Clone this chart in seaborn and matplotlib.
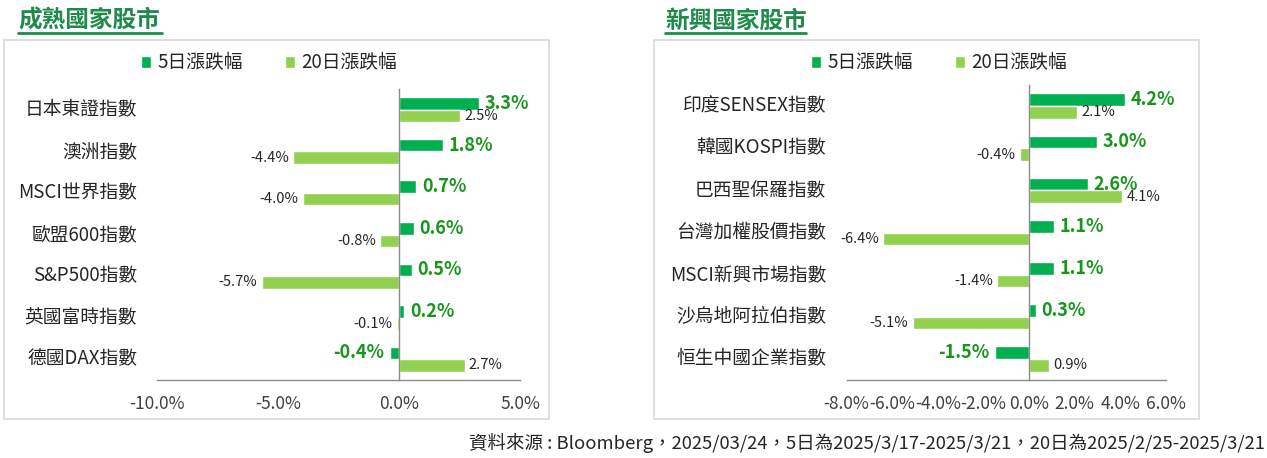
import matplotlib
matplotlib.use("Agg")
import matplotlib.pyplot as plt
import matplotlib.transforms as mtransforms
from matplotlib.patches import Rectangle
from matplotlib.lines import Line2D
from matplotlib.ticker import FuncFormatter, FixedLocator
import seaborn as sns
import pandas as pd

# --- data -------------------------------------------------------------
series_names = ["5日漲跌幅", "20日漲跌幅"]

dev_names = ["日本東證指數", "澳洲指數", "MSCI世界指數", "歐盟600指數",
             "S&P500指數", "英國富時指數", "德國DAX指數"]
dev_5d = [3.3, 1.8, 0.7, 0.6, 0.5, 0.2, -0.4]
dev_20d = [2.5, -4.4, -4.0, -0.8, -5.7, -0.1, 2.7]

em_names = ["印度SENSEX指數", "韓國KOSPI指數", "巴西聖保羅指數", "台灣加權股價指數",
            "MSCI新興市場指數", "沙烏地阿拉伯指數", "恒生中國企業指數"]
em_5d = [4.2, 3.0, 2.6, 1.1, 1.1, 0.3, -1.5]
em_20d = [2.1, -0.4, 4.1, -6.4, -1.4, -5.1, 0.9]

dev_ticks = [-10, -5, 0, 5]
em_ticks = [-8, -6, -4, -2, 0, 2, 4, 6]

footer = "資料來源 : Bloomberg，2025/03/24，5日為2025/3/17-2025/3/21，20日為2025/2/25-2025/3/21"

# --- style ------------------------------------------------------------
sns.set_style("white")
plt.rcParams["font.family"] = ["Noto Sans CJK TC", "DejaVu Sans"]

DARK = "#00B050"
LIGHT = "#92D050"
TITLE_GREEN = "#1E8B4B"
LABEL_GREEN = "#17961C"
AXIS_GRAY = "#8C8C8C"
BOX_GRAY = "#D9D9D9"

W, H = 1267, 458
fig = plt.figure(figsize=(W / 100, H / 100), dpi=100)


def px_rect(x0, y0, x1, y1):
    # pixel box (top-left origin) -> figure fraction [l, b, w, h]
    return [x0 / W, 1 - y1 / H, (x1 - x0) / W, (y1 - y0) / H]


def draw_panel(rect, box, title, title_span, legend_center, label_x,
               names, v5, v20, ticks, xlim):
    # light gray frame around the panel
    bx0, by0, bx1, by1 = box
    fig.patches.append(Rectangle((bx0 / W, 1 - by1 / H), (bx1 - bx0) / W, (by1 - by0) / H,
                                 transform=fig.transFigure, fill=False,
                                 edgecolor=BOX_GRAY, linewidth=1.2))
    # title + underline
    tx0, tx1 = title_span
    fig.text(tx0 / W, 1 - 21 / H, title, fontsize=17, fontweight="bold",
             color=TITLE_GREEN, ha="left", va="center")
    fig.add_artist(Line2D([tx0 / W, tx1 / W], [1 - 33 / H, 1 - 33 / H],
                          transform=fig.transFigure, color=TITLE_GREEN, linewidth=2))

    df = pd.DataFrame({
        "name": names * 2,
        "value": v5 + v20,
        "series": [series_names[0]] * len(names) + [series_names[1]] * len(names),
    })

    ax = fig.add_axes(rect)
    sns.barplot(data=df, y="name", x="value", hue="series", hue_order=series_names,
                palette=[DARK, LIGHT], width=0.6, gap=0, orient="h",
                saturation=1, ax=ax, errorbar=None)

    # value labels
    c5, c20 = ax.containers[0], ax.containers[1]
    ax.bar_label(c5, labels=[f"{v:.1f}%" for v in v5], padding=4,
                 color=LABEL_GREEN, fontsize=13, fontweight="bold")
    ax.bar_label(c20, labels=[f"{v:.1f}%" for v in v20], padding=3,
                 color="#262626", fontsize=10.5)

    ax.set_xlim(*xlim)
    ax.set_ylim(len(names) - 0.5, -0.5)
    ax.set_xticks(ticks)
    ax.xaxis.set_major_formatter(FuncFormatter(lambda v, p: f"{v:.1f}%"))
    ax.tick_params(axis="x", direction="out", length=5, width=1, color=AXIS_GRAY,
                   labelsize=12.5, labelcolor="#404040", pad=6)

    # category axis sits on zero, ticks mark the category boundaries
    ax.spines["left"].set_position(("data", 0))
    for side in ["top", "right"]:
        ax.spines[side].set_visible(False)
    for side in ["left", "bottom"]:
        ax.spines[side].set_color(AXIS_GRAY)
        ax.spines[side].set_linewidth(1)
    ax.yaxis.set_major_locator(FixedLocator([i - 0.5 for i in range(len(names) + 1)]))
    ax.set_yticklabels([])
    ax.tick_params(axis="y", direction="out", length=5, width=1, color=AXIS_GRAY)

    trans = mtransforms.blended_transform_factory(ax.transAxes, ax.transData)
    for i, n in enumerate(names):
        ax.text(label_x, i, n, transform=trans, ha="right", va="center",
                fontsize=13.5, color="#262626", fontweight="medium")

    ax.set_xlabel("")
    ax.set_ylabel("")

    handles, labels = ax.get_legend_handles_labels()
    ax.legend(handles, labels, loc="center",
              bbox_to_anchor=(legend_center / W, 1 - 63 / H), bbox_transform=fig.transFigure,
              ncol=2, frameon=False, fontsize=13.5, handlelength=0.55, handleheight=0.55,
              handletextpad=0.35, columnspacing=2.2, labelcolor="#262626")
    return ax


draw_panel(px_rect(157.5, 89, 520.4, 380), (3.5, 40, 549, 419),
           "成熟國家股市", (18, 162), 269, (137 - 157.5) / 362.9,
           dev_names, dev_5d, dev_20d, dev_ticks, (-10, 5))

draw_panel(px_rect(846.5, 85, 1165.7, 380), (653.5, 40, 1198.5, 419),
           "新興國家股市", (665, 806), 939, (826 - 846.5) / 319.2,
           em_names, em_5d, em_20d, em_ticks, (-8, 6))

fig.text(1265 / W, 1 - 443 / H, footer, ha="right", va="center",
         fontsize=13.3, color="#262626")

fig.savefig("out.png", dpi=100)
